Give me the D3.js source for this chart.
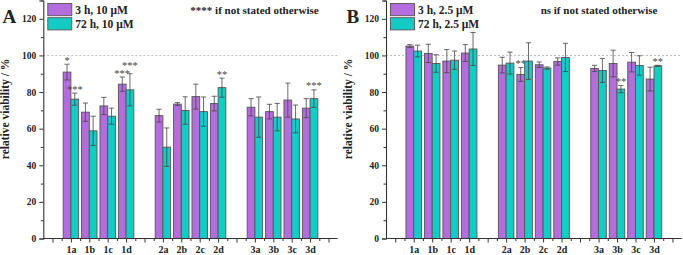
<!DOCTYPE html>
<html><head><meta charset="utf-8">
<script src="https://cdn.jsdelivr.net/npm/d3@7"></script>
<style>
html,body{margin:0;padding:0;background:#fff;}
svg{display:block;}
text{font-family:"Liberation Serif","Times New Roman",serif;font-weight:bold;fill:#222;}
</style></head>
<body>
<svg id="c" width="683" height="255"></svg>
<script>
const categories = ["1a","1b","1c","1d","2a","2b","2c","2d","3a","3b","3c","3d"];
const yTicks = [0,20,40,60,80,100,120];

// Panel A
const A_3h = [90.9, 69.0, 72.4, 84.3, 67.1, 73.4, 77.5, 73.7, 71.7, 69.3, 75.6, 71.2];
const A_3hErr = [4.3, 5.0, 4.7, 3.9, 3.5, 0.8, 6.8, 4.0, 4.7, 4.0, 9.3, 5.2];
const A_72h = [76.1, 58.8, 66.8, 81.2, 49.9, 69.9, 69.3, 82.4, 66.3, 66.3, 65.3, 76.4];
const A_72hErr = [3.3, 8.0, 4.4, 8.8, 10.5, 7.5, 8.0, 5.2, 11.0, 7.5, 7.6, 4.8];
const A_3hSig = ["*","","","***","","","","","","","",""];
const A_72hSig = ["***","","","***","","","","**","","","","***"];
const A_legend = ["3 h, 10 μM", "72 h, 10 μM"];
const A_note = "**** if not stated otherwise";

// Panel B
const B_3h = [105.1, 101.1, 96.9, 101.3, 94.7, 89.6, 94.9, 96.7, 92.9, 95.6, 96.3, 87.1];
const B_3hErr = [0.8, 5.0, 6.3, 4.6, 4.3, 3.8, 1.5, 2.0, 1.7, 7.3, 5.3, 6.5];
const B_72h = [102.4, 95.6, 97.4, 103.5, 95.8, 96.9, 93.1, 98.9, 91.8, 81.6, 94.5, 94.3];
const B_72hErr = [3.2, 4.8, 5.0, 9.0, 6.0, 10.0, 0.6, 7.7, 6.5, 2.0, 5.3, 0.3];
const B_3hSig = ["","","","","","**","","","","","",""];
const B_72hSig = ["","","","","","","","","","**","","**"];
const B_legend = ["3 h, 2.5 μM", "72 h, 2.5 μM"];
const B_note = "ns if not stated otherwise";

const colors = ["#b36ddc", "#14cbc5"];
const svg = d3.select("#c");

function panel(opt){
  const g = svg.append("g");
  const x = d3.scaleLinear().domain([-0.5, 15.5]).range([opt.x0, opt.x1]);
  const y = d3.scaleLinear().domain([0, 130]).range([238.5, 0.5]);
  const pos = i => 1 + i + Math.floor(i/4);
  const bw = x(0.42) - x(0);

  // reference line at 100
  g.append("line").attr("x1", opt.x0).attr("x2", opt.x1)
    .attr("y1", y(100)).attr("y2", y(100))
    .attr("stroke", "#aaa").attr("stroke-width", 0.8).attr("stroke-dasharray", "2,2");

  const series = [
    {v: opt.s1, e: opt.e1, sig: opt.sig1, off: -1},
    {v: opt.s2, e: opt.e2, sig: opt.sig2, off: 0}
  ];
  const sigY = [[], []];
  series.forEach((s, si) => {
    const sg = g.append("g");
    sg.selectAll("rect").data(s.v).enter().append("rect")
      .attr("x", (d,i) => x(pos(i)) + s.off*bw)
      .attr("width", bw)
      .attr("y", d => y(d))
      .attr("height", d => y(0) - y(d))
      .attr("fill", colors[si]).attr("stroke", "#555").attr("stroke-width", 0.9);
    s.v.forEach((d,i) => {
      const cx = x(pos(i)) + s.off*bw + bw/2;
      const t = y(d + s.e[i]), b = y(d - s.e[i]);
      sg.append("line").attr("x1", cx).attr("x2", cx).attr("y1", t).attr("y2", b)
        .attr("stroke", "#444").attr("stroke-width", 0.8);
      [t, b].forEach(yy => sg.append("line").attr("x1", cx-2.6).attr("x2", cx+2.6)
        .attr("y1", yy).attr("y2", yy).attr("stroke", "#444").attr("stroke-width", 0.8));
      if (s.sig[i]) {
        let ty = t - 0.5;
        // keep the second label clear of its neighbour's label when they collide
        const other = sigY[0][i];
        if (si === 1 && other !== undefined && Math.abs(ty - other) < 8) ty = other - 8;
        sigY[si][i] = ty;
        sg.append("text").attr("x", cx).attr("y", ty)
          .attr("text-anchor", "middle").attr("font-size", 10.5)
          .style("font-weight", "normal").style("fill", "#444")
          .text(s.sig[i]);
      }
    });
  });

  // y axis
  const yAxis = d3.axisLeft(y).tickValues(yTicks).tickSize(4).tickPadding(3).tickFormat(d3.format("d"));
  const ya = g.append("g").attr("transform", `translate(${opt.x0},0)`).call(yAxis);
  ya.select(".domain").attr("stroke", "#333").attr("stroke-width", 1.1);
  ya.selectAll(".tick line").attr("stroke", "#333");
  ya.selectAll(".tick text").attr("font-size", 9.5).attr("font-family", "Liberation Serif").attr("font-weight", "bold").attr("fill", "#222");
  const yMinor = d3.axisLeft(y).tickValues(d3.range(10, 131, 20)).tickSize(2.5).tickFormat("");
  const ym = g.append("g").attr("transform", `translate(${opt.x0},0)`).call(yMinor);
  ym.select(".domain").remove();
  ym.selectAll(".tick line").attr("stroke", "#333");

  // x axis
  const xAxis = d3.axisBottom(x).tickValues(d3.range(0, 16)).tickSize(4).tickPadding(3)
    .tickFormat(v => { const i = categories.findIndex((c,k) => pos(k) === v); return i >= 0 ? categories[i] : ""; });
  const xa = g.append("g").attr("transform", `translate(0,${y(0)})`).call(xAxis);
  xa.select(".domain").attr("stroke", "#333").attr("stroke-width", 1.1).attr("d", `M${opt.x0},0H${opt.x1}`);
  xa.selectAll(".tick line").attr("stroke", "#333");
  xa.selectAll(".tick text").attr("font-size", 10).attr("font-family", "Liberation Serif").attr("font-weight", "bold").attr("fill", "#222");
  const xMinor = d3.axisBottom(x).tickValues(d3.range(0.5, 15.5, 1)).tickSize(2.5).tickFormat("");
  const xm = g.append("g").attr("transform", `translate(0,${y(0)})`).call(xMinor);
  xm.select(".domain").remove();
  xm.selectAll(".tick line").attr("stroke", "#333");

  // y title
  g.append("text").attr("transform", `translate(${opt.x0 - 34},109) rotate(-90)`)
    .attr("text-anchor", "middle").attr("font-size", 11.5).text("relative viability / %");

  // panel letter
  g.append("text").attr("x", opt.letterX).attr("y", 23).attr("font-size", 19).text(opt.letter);

  // legend
  opt.legend.forEach((l, i) => {
    g.append("rect").attr("x", opt.x0 + 4.5).attr("y", 3.5 + i*14.2).attr("width", 24).attr("height", 12.2)
      .attr("fill", colors[i]).attr("stroke", "#555").attr("stroke-width", 0.9);
    g.append("text").attr("x", opt.x0 + 32).attr("y", 13.8 + i*14.2).attr("font-size", 11.5).text(l);
  });
  g.append("text").attr("x", opt.noteX).attr("y", 14).attr("text-anchor", "middle")
    .attr("font-size", 11).text(opt.note);
}

panel({x0: 43.3, x1: 337.7, s1: A_3h, e1: A_3hErr, s2: A_72h, e2: A_72hErr,
  sig1: A_3hSig, sig2: A_72hSig, legend: A_legend, note: A_note, noteX: 254.5, letter: "A", letterX: 2.5});
panel({x0: 386, x1: 681.7, s1: B_3h, e1: B_3hErr, s2: B_72h, e2: B_72hErr,
  sig1: B_3hSig, sig2: B_72hSig, legend: B_legend, note: B_note, noteX: 599, letter: "B", letterX: 346.5});
</script>
</body></html>
